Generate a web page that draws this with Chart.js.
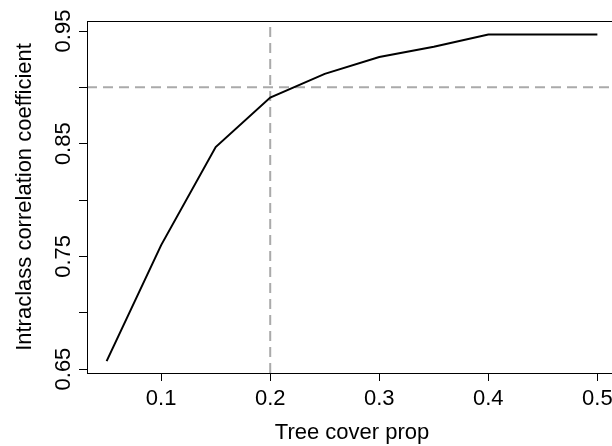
<!DOCTYPE html>
<html>
<head>
<meta charset="utf-8">
<script src="https://cdn.jsdelivr.net/npm/chart.js@4.4.1/dist/chart.umd.min.js"></script>
<style>
  html, body { margin: 0; padding: 0; background: #fff; overflow: hidden; }
  canvas { display: block; }
</style>
</head>
<body>
<canvas id="chart" width="620" height="446"></canvas>
<script>
// tree cover proportion vs intraclass correlation coefficient
const treeCover = [0.05, 0.1, 0.15, 0.2, 0.25, 0.3, 0.35, 0.4, 0.45, 0.5];
const iccValues = [0.657, 0.760, 0.847, 0.891, 0.912, 0.927, 0.936, 0.947, 0.947, 0.947];
const xTicks = [0.1, 0.2, 0.3, 0.4, 0.5];
const xTickLabels = ["0.1", "0.2", "0.3", "0.4", "0.5"];
const yTicks = [0.65, 0.7, 0.75, 0.8, 0.85, 0.9, 0.95];
const yTickLabels = ["0.65", "", "0.75", "", "0.85", "", "0.95"];
const refX = 0.2;
const refY = 0.9;

const xMin = 0.032, xMax = 0.518;
const yMin = 0.6465, yMax = 0.9589;
const font = "'Liberation Sans', Arial, sans-serif";

const boxAndLabels = {
  id: "boxAndLabels",
  afterDraw(chart) {
    const ctx = chart.ctx;
    const a = chart.chartArea;
    const y = chart.scales.y;
    ctx.save();
    ctx.strokeStyle = "#000";
    ctx.lineWidth = 1;
    ctx.strokeRect(Math.round(a.left) + 0.5, Math.round(a.top) + 0.5,
      Math.round(a.right - a.left), Math.round(a.bottom - a.top));
    // rotated y tick labels, like R's default
    ctx.fillStyle = "#000";
    ctx.font = "22px " + font;
    ctx.textAlign = "center";
    ctx.textBaseline = "alphabetic";
    yTicks.forEach((v, i) => {
      if (!yTickLabels[i]) return;
      const py = y.getPixelForValue(v);
      ctx.save();
      ctx.translate(70, py);
      ctx.rotate(-Math.PI / 2);
      ctx.fillText(yTickLabels[i], 0, 0);
      ctx.restore();
    });
    ctx.restore();
  }
};

new Chart(document.getElementById("chart"), {
  type: "line",
  data: {
    datasets: [
      {
        data: treeCover.map((x, i) => ({ x: x, y: iccValues[i] })),
        borderColor: "#000",
        borderWidth: 2,
        pointRadius: 0,
        tension: 0
      },
      {
        data: [{ x: refX, y: yMin }, { x: refX, y: yMax }],
        borderColor: "#aaaaaa",
        borderWidth: 2,
        borderDash: [10, 6],
        pointRadius: 0
      },
      {
        data: [{ x: xMin, y: refY }, { x: xMax, y: refY }],
        borderColor: "#aaaaaa",
        borderWidth: 2,
        borderDash: [10, 6],
        pointRadius: 0
      }
    ]
  },
  options: {
    responsive: false,
    animation: false,
    devicePixelRatio: 1,
    layout: { padding: { top: 21, right: 3, left: 0, bottom: 0 } },
    plugins: { legend: { display: false }, tooltip: { enabled: false } },
    scales: {
      x: {
        type: "linear",
        min: xMin,
        max: xMax,
        afterBuildTicks: s => { s.ticks = xTicks.map(v => ({ value: v })); },
        afterFit: s => { s.height = 73; },
        ticks: {
          color: "#000",
          font: { family: font, size: 22 },
          padding: 5,
          maxRotation: 0,
          callback: (v) => xTickLabels[xTicks.indexOf(v)]
        },
        grid: { drawOnChartArea: false, drawTicks: true, tickLength: 8, color: "#000" },
        border: { display: true, color: "#000" },
        title: {
          display: true,
          text: "Tree cover prop",
          color: "#000",
          font: { family: font, size: 22 },
          padding: { top: 0, bottom: 0 }
        }
      },
      y: {
        min: yMin,
        max: yMax,
        afterBuildTicks: s => { s.ticks = yTicks.map(v => ({ value: v })); },
        afterFit: s => { s.width = 87; },
        ticks: { display: false },
        grid: { drawOnChartArea: false, drawTicks: true, tickLength: 8, color: "#000" },
        border: { display: true, color: "#000" },
        title: {
          display: true,
          text: "Intraclass correlation coefficient",
          color: "#000",
          font: { family: font, size: 22 },
          padding: { top: 12, bottom: 0 }
        }
      }
    }
  },
  plugins: [boxAndLabels]
});
</script>
</body>
</html>
